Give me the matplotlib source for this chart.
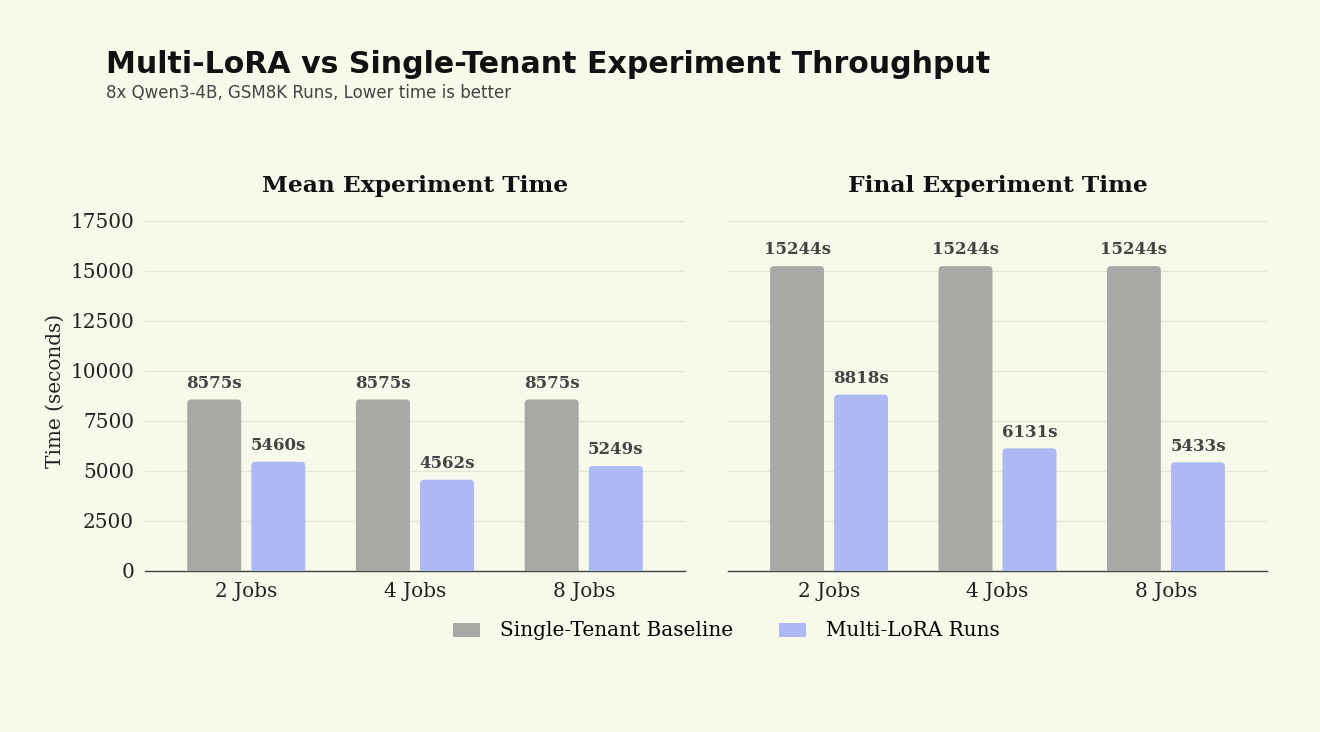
import matplotlib
matplotlib.use("Agg")
import matplotlib.pyplot as plt
from matplotlib.patches import FancyBboxPatch, Patch
import numpy as np

categories = ["2 Jobs", "4 Jobs", "8 Jobs"]
mean_baseline = [8575, 8575, 8575]
mean_multilora = [5460, 4562, 5249]
final_baseline = [15244, 15244, 15244]
final_multilora = [8818, 6131, 5433]
yticks = [0, 2500, 5000, 7500, 10000, 12500, 15000, 17500]

BG = "#F7F9EA"
GRAY = "#A8A9A4"
BLUE = "#ADB8F5"
GRID = "#E3E5D6"

fig = plt.figure(figsize=(13.2, 7.32), dpi=100, facecolor=BG)
ax1 = fig.add_axes([145/1320, 1-571/732, 540/1320, 360/732])
ax2 = fig.add_axes([728/1320, 1-571/732, 539/1320, 360/732], sharey=ax1)

serif = "DejaVu Serif"
width = 0.32
off = 0.19
YMAX = 18000
TICK_FS = 14.4

def rounded_bars(ax, xs, vals, color):
    bars = ax.bar(xs, vals, width=width, color=color, zorder=3)
    fig_w, fig_h = fig.get_size_inches() * fig.dpi
    bbox = ax.get_position()
    px_x = (bbox.width * fig_w) / 3.2
    px_y = (bbox.height * fig_h) / YMAX
    r_px = 4.0
    for b in bars:
        x0, w, h = b.get_x(), b.get_width(), b.get_height()
        b.set_visible(False)
        rx = r_px / px_x
        ext = rx * px_x / px_y
        p = FancyBboxPatch((x0, -ext), w, h + ext,
                           boxstyle=f"round,pad=0,rounding_size={rx}",
                           mutation_aspect=px_x / px_y,
                           facecolor=color, edgecolor="none", zorder=3,
                           clip_on=True)
        ax.add_patch(p)
    return bars

def draw(ax, base, multi, title):
    ax.set_facecolor(BG)
    x = np.arange(len(categories))
    rounded_bars(ax, x - off, base, GRAY)
    rounded_bars(ax, x + off, multi, BLUE)
    for xs, vals in ((x - off, base), (x + off, multi)):
        for xi, v in zip(xs, vals):
            ax.annotate(f"{v}s", (xi, v), xytext=(0, 5.5), textcoords="offset points",
                        ha="center", va="bottom", fontsize=12, fontweight="bold",
                        family=serif, color="#444444")
    ax.set_xlim(-0.6, 2.6)
    ax.set_ylim(0, YMAX)
    ax.set_xticks(x)
    ax.set_xticklabels(categories, fontsize=TICK_FS, family=serif, color="#222222")
    ax.set_yticks(yticks)
    ax.grid(axis="y", color=GRID, linewidth=1, zorder=0)
    ax.set_axisbelow(True)
    for s in ["top", "right", "left"]:
        ax.spines[s].set_visible(False)
    ax.spines["bottom"].set_color("#444444")
    ax.spines["bottom"].set_linewidth(1.0)
    ax.tick_params(axis="both", length=0, pad=8)
    ax.set_title(title, fontsize=16.8, fontweight="bold", family=serif,
                 color="#111111", pad=14)

draw(ax1, mean_baseline, mean_multilora, "Mean Experiment Time")
draw(ax2, final_baseline, final_multilora, "Final Experiment Time")

for lab in ax1.get_yticklabels():
    lab.set_family(serif)
    lab.set_fontsize(TICK_FS)
    lab.set_color("#222222")
ax1.tick_params(axis="y", pad=8)
ax1.set_ylabel("Time (seconds)", fontsize=TICK_FS, family=serif, color="#222222", labelpad=4)
ax2.tick_params(axis="y", labelleft=False)

fig.text(106/1320, 1-64.5/732, "Multi-LoRA vs Single-Tenant Experiment Throughput",
         fontsize=21.6, fontweight="bold", family="DejaVu Sans", color="#111111",
         ha="left", va="center")
fig.text(106/1320, 1-93.5/732, "8x Qwen3-4B, GSM8K Runs, Lower time is better",
         fontsize=12, family="DejaVu Sans", color="#444444", ha="left", va="center")

handles = [Patch(facecolor=GRAY, edgecolor="none", label="Single-Tenant Baseline"),
           Patch(facecolor=BLUE, edgecolor="none", label="Multi-LoRA Runs")]
fig.legend(handles=handles, loc="center", bbox_to_anchor=(726/1320, 1-631/732),
           ncol=2, frameon=False, prop={"family": serif, "size": TICK_FS},
           handlelength=1.35, handletextpad=1.0, columnspacing=2.3)

fig.savefig("out.png", dpi=100, facecolor=BG)
